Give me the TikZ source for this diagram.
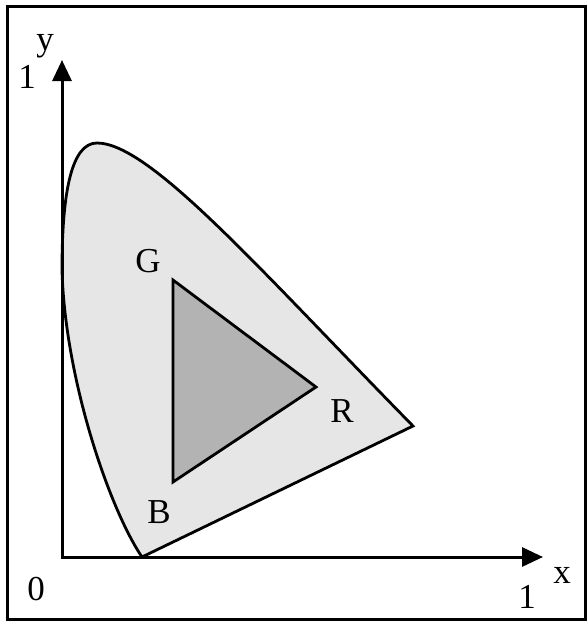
\documentclass[tikz,border=0pt]{standalone}
\usepackage{fontspec}
\setmainfont{Liberation Serif}
\usetikzlibrary{arrows.meta}
\definecolor{gamutfill}{RGB}{230,230,230}
\definecolor{rgbfill}{RGB}{179,179,179}

\begin{document}
\begin{tikzpicture}[x=1pt, y=-1pt,
  axis/.style={line width=3pt, {Triangle[length=21pt,width=19pt]}-{Triangle[length=21pt,width=19pt]}},
  edge/.style={draw, line width=2.8pt},
  lbl/.style={anchor=base, inner sep=0pt, font=\fontsize{35}{40}\selectfont}]

  \useasboundingbox (0,0) rectangle (587,622);
  \draw[line width=3pt] (7,6) rectangle (585.5,619.5);

  \coordinate (O) at (62,557);
  \coordinate (ytip) at (62,60);
  \coordinate (xtip) at (543,557);
  \coordinate (gv) at (173,280);
  \coordinate (rv) at (316,387);
  \coordinate (bv) at (173,482);

  \draw[edge, fill=gamutfill] (142,557) .. controls (110,510) and (65,380) .. (62,270)
    .. controls (62,190) and (72,143) .. (97,143)
    .. controls (150,143) and (260,270) .. (413,426) -- cycle;
  \draw[edge, fill=rgbfill] (gv) -- (rv) -- (bv) -- cycle;

  \draw[axis] (ytip) -- (O) -- (xtip);

  \node[lbl] (ylabel) at (45,50) {y};
  \node[lbl] (yone) at (27,88) {1};
  \node[lbl] (zero) at (36,600) {0};
  \node[lbl] (xone) at (527,608) {1};
  \node[lbl] (xlabel) at (562,583) {x};
  \node[lbl] (G) at (148,272) {G};
  \node[lbl] (R) at (342,422) {R};
  \node[lbl] (B) at (159,523) {B};
\end{tikzpicture}
\end{document}
